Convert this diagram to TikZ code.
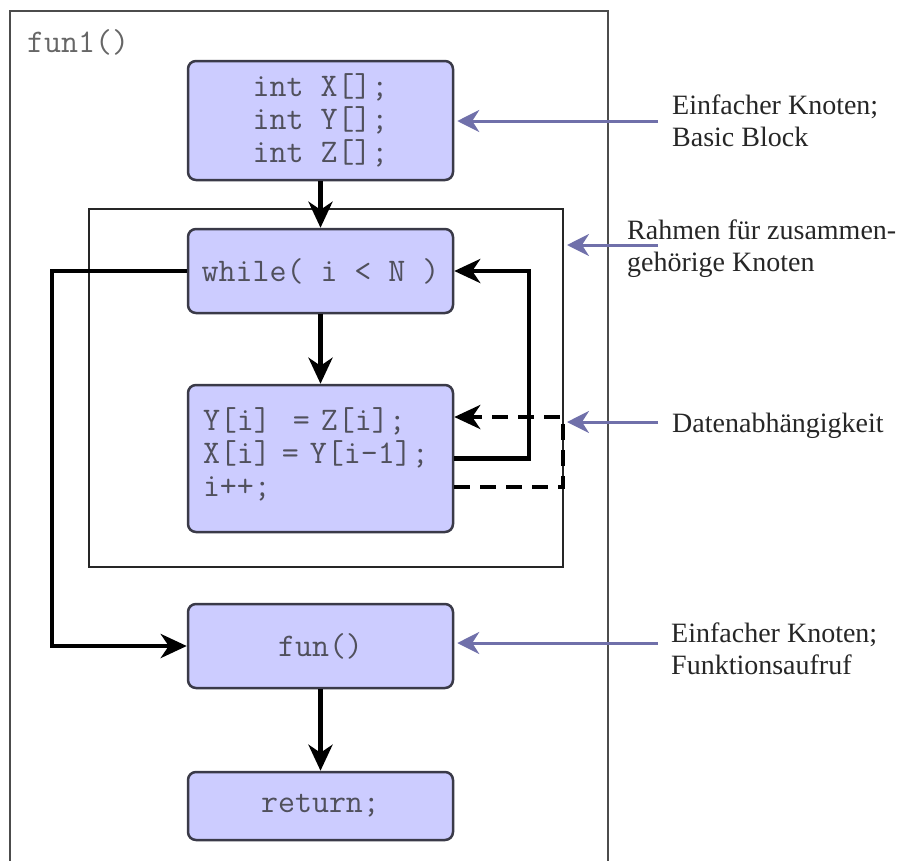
\documentclass[tikz,border=0pt]{standalone}
\usepackage{fontspec}
\setmainfont{Liberation Serif}
\usetikzlibrary{arrows.meta}
\definecolor{blockfill}{RGB}{204,204,255}
\definecolor{blockdraw}{RGB}{58,58,72}
\definecolor{codegray}{RGB}{80,80,92}
\definecolor{hintblue}{RGB}{112,112,170}
\newcommand{\codefont}{\ttfamily\fontsize{33}{33}\selectfont}

\begin{document}
\begin{tikzpicture}[x=1pt,y=-1pt]
        \tikzstyle{block}=[rectangle,rounded corners=8pt,draw=blockdraw,line width=2.5pt,fill=blockfill,minimum width=265pt,text=codegray,font=\codefont,align=center]
        \tikzstyle{flow}=[draw,line width=4.5pt,line join=miter,-{Stealth[length=26pt,width=24pt,inset=8pt]}]
        \tikzstyle{dep}=[flow,dash pattern=on 16pt off 10pt]
        \tikzstyle{hint}=[draw=hintblue,line width=3pt,shorten >=3pt,-{Stealth[length=22pt,width=22pt,inset=7pt]}]
        \tikzstyle{note}=[anchor=west,align=left,inner sep=0pt,font=\fontsize{28}{32}\selectfont,text=black!85]
        \useasboundingbox (0,0) rectangle (899,860);
       \begin{scope}
         % frames
         \draw[line width=2.5pt,draw=black!70] (10,875) -- (10,11) -- (608,11) -- (608,875);
         \node [anchor=west,inner sep=0pt,text=black!60,font=\codefont] (title) at (27,42) {fun1()};
         \node [draw=black!85,line width=2pt,minimum width=474pt,minimum height=358pt,inner sep=0pt] (grp) at (326,388) {};
         % blocks
         \node [block,minimum height=119pt] (decl) at (320.5,120.5) {int X[];\\int Y[];\\int Z[];};
         \node [block,minimum height=84pt] (cond) at (320.5,271) {while( i < N )};
         \node [block,minimum height=147pt,text width=235pt,inner xsep=15pt,align=left,text depth=78pt] (body) at (320.5,458.5) {Y[i]\ \ = Z[i];\\X[i] = Y[i-1];\\i++;};
         \node [block,minimum height=84pt] (call) at (320.5,646) {fun()};
         \node [block,minimum height=68pt] (ret) at (320.5,806) {return;};
         \coordinate (lft) at (52,271);
         \coordinate (rgt) at (529,458.5);
         \coordinate (dlo) at (563,487);
         \coordinate (dhi) at (563,417);
         \path[flow] (decl) -- (cond);
         \path[flow] (cond) -- (body);
         \path[flow] (call) -- (ret);
         \path[flow] (cond.west) -- (lft) |- (call.west);
         \path[flow] (body.east) -- (rgt) |- (cond.east);
         \path[dep] (body.east |- dlo) -- (dlo) -- (dhi) -- (body.east |- dhi);
         % notes
         \node [note] (n1) at (672,121) {Einfacher Knoten;\\Basic Block};
         \node [note] (n2) at (627,249) {Rahmen für zusammen-\\gehörige Knoten};
         \node [note] (n3) at (672,426) {Datenabhängigkeit};
         \node [note] (n4) at (671,649) {Einfacher Knoten;\\Funktionsaufruf};
         \coordinate (h1) at (658,121);
         \coordinate (h2) at (658,245);
         \coordinate (h3) at (658,422);
         \coordinate (h4) at (658,643);
         \path[hint] (h1) -- (decl.east |- h1);
         \path[hint] (h2) -- (grp.east |- h2);
         \path[hint] (h3) -- (grp.east |- h3);
         \path[hint] (h4) -- (call.east |- h4);
        \end{scope}
      \end{tikzpicture}
\end{document}
